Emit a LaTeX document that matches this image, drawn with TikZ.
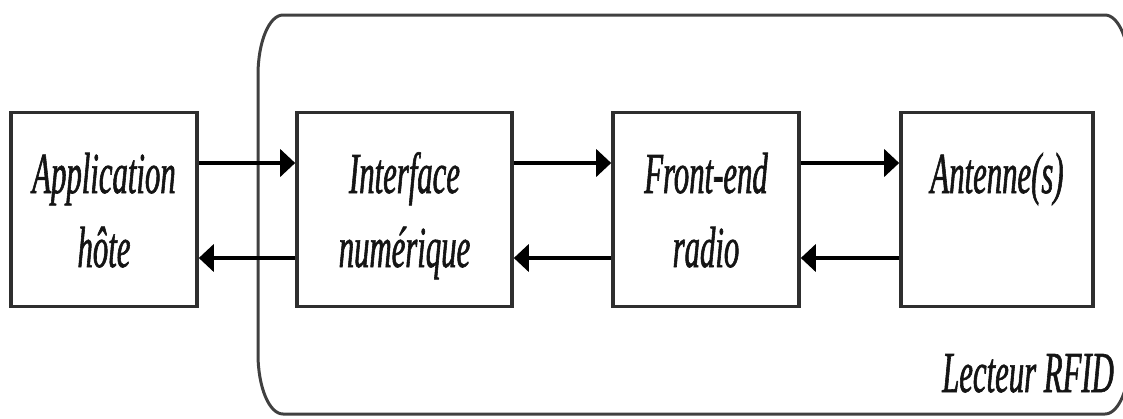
\documentclass[tikz,border=0pt]{standalone}
\usepackage{fontspec}
\setmainfont{Liberation Serif}
\newfontfamily\narrowserif[FakeStretch=0.53,FakeBold=1]{Liberation Serif}
\usetikzlibrary{arrows.meta}

\begin{document}
\begin{tikzpicture}[x=1pt,y=-1pt,
  blk/.style={draw=black!82, line width=3.6pt, minimum width=#1,
              minimum height=194pt, inner sep=0pt},
  lbl/.style={anchor=base, inner sep=0pt, text=black!92,
              font=\narrowserif\itshape\fontsize{58}{70}\selectfont},
  arr/.style={draw=black, line width=4.5pt,
              -{Triangle[length=15pt,width=27pt]}},
  frame/.style={draw=black!75, line width=3pt}
]
\clip (0,0) rectangle (1123,418);

% reader enclosure with elliptical corners
\draw[frame] (258,354) -- (258,75)
  arc[start angle=180,end angle=270,x radius=25,y radius=60] -- (1105,15)
  arc[start angle=270,end angle=360,x radius=25,y radius=60] -- (1130,354)
  arc[start angle=0,end angle=90,x radius=25,y radius=60] -- (283,414)
  arc[start angle=90,end angle=180,x radius=25,y radius=60] -- cycle;

% blocks
\node[blk=186pt] (app) at (104,209.5) {};
\node[blk=215pt] (ifc) at (404.5,209.5) {};
\node[blk=186pt] (rf)  at (706,209.5) {};
\node[blk=192pt] (ant) at (997,209.5) {};

% block labels
\node[lbl] (appA) at (104,193) {Application};
\node[lbl] (appB) at (104,267) {hôte};
\node[lbl] (ifcA) at (404.5,193) {Interface};
\node[lbl] (ifcB) at (404.5,267) {numérique};
\node[lbl] (rfA)  at (706,193) {Front-end};
\node[lbl] (rfB)  at (706,267) {radio};
\node[lbl] (antA) at (997,193) {Antenne(s)};
\node[lbl, anchor=base east] (reader) at (1114,392) {Lecteur RFID};

% forward links
\draw[arr] ([yshift=46.5pt]app.east) -- ([yshift=46.5pt]ifc.west);
\draw[arr] ([yshift=46.5pt]ifc.east) -- ([yshift=46.5pt]rf.west);
\draw[arr] ([yshift=46.5pt]rf.east)  -- ([yshift=46.5pt]ant.west);
% return links
\draw[arr] ([yshift=-48.5pt]ifc.west) -- ([yshift=-48.5pt]app.east);
\draw[arr] ([yshift=-48.5pt]rf.west)  -- ([yshift=-48.5pt]ifc.east);
\draw[arr] ([yshift=-48.5pt]ant.west) -- ([yshift=-48.5pt]rf.east);
\end{tikzpicture}
\end{document}
